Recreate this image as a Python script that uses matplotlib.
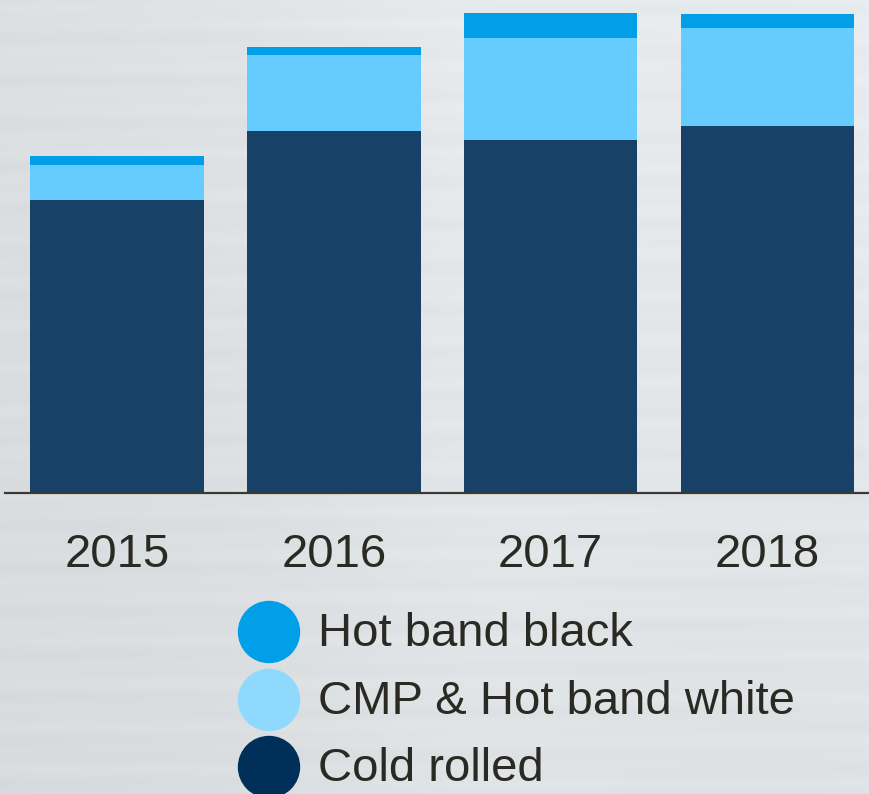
import numpy as np
import matplotlib
matplotlib.use("Agg")
import matplotlib.pyplot as plt
from matplotlib.patches import Ellipse

years = ["2015", "2016", "2017", "2018"]
cold_rolled = [293, 362, 353, 367]
cmp_hot_white = [35, 76, 102, 98]
hot_black = [9, 8, 25, 14]
series_names = ["Hot band black", "CMP & Hot band white", "Cold rolled"]

bar_colors = {"cold": "#174166", "cmp": "#66CCFF", "hot": "#009FE8"}
legend_colors = ["#009FE8", "#8FD9FF", "#00305A"]
text_color = "#2b2a22"

W, H = 869, 794
fig = plt.figure(figsize=(W / 100, H / 100), dpi=100)

# brushed-metal style background
bg = fig.add_axes([0, 0, 1, 1])
yy, xx = np.mgrid[0:1:200j, 0:1:300j]
base = 0.885 + 0.055 * xx * (1 - 0.5 * yy) - 0.015 * yy + 0.015 * np.exp(-((xx - 0.55) / 0.2) ** 2)
streak = 0.010 * np.sin(yy * 173.0) * np.cos(yy * 61.0 + xx * 3.0)
val = np.clip(base + streak, 0, 1)
img = np.dstack([val * 0.975, val * 0.99, val * 1.0])
img = np.clip(img, 0, 1)
bg.imshow(img, aspect="auto", extent=[0, 1, 0, 1], interpolation="bilinear")
bg.set_axis_off()

# main axes: left edge x=5px, bottom at y=493px, top at 0
ax = fig.add_axes([5 / W, (H - 493) / H, (W - 5) / W, 493 / H])
ax.patch.set_alpha(0)
x = np.arange(len(years))
ax.bar(x, cold_rolled, width=0.8, color=bar_colors["cold"], zorder=2)
ax.bar(x, cmp_hot_white, width=0.8, bottom=cold_rolled, color=bar_colors["cmp"], zorder=2)
bottom2 = np.array(cold_rolled) + np.array(cmp_hot_white)
ax.bar(x, hot_black, width=0.8, bottom=bottom2, color=bar_colors["hot"], zorder=2)

ax.set_xlim(-0.516, 3.468)
ax.set_ylim(0, 493)
for s in ["top", "right", "left"]:
    ax.spines[s].set_visible(False)
ax.spines["bottom"].set_color("#3a3a35")
ax.spines["bottom"].set_linewidth(1.6)
ax.set_yticks([])
ax.set_xticks(x)
ax.set_xticklabels(years, fontsize=34, color=text_color, family="Liberation Sans")
ax.tick_params(axis="x", length=0, pad=29)

# legend drawn manually
leg_y = [632, 700, 767]
for name, c, py in zip(series_names, legend_colors, leg_y):
    e = Ellipse((269 / W, 1 - py / H), 61 / W, 61 / H, transform=fig.transFigure,
                color=c, zorder=5)
    fig.add_artist(e)
    fig.text(318 / W, 1 - (py + 2) / H, name, fontsize=34, color=text_color,
             family="Liberation Sans", va="center", ha="left")

fig.savefig("out.png", dpi=100)
